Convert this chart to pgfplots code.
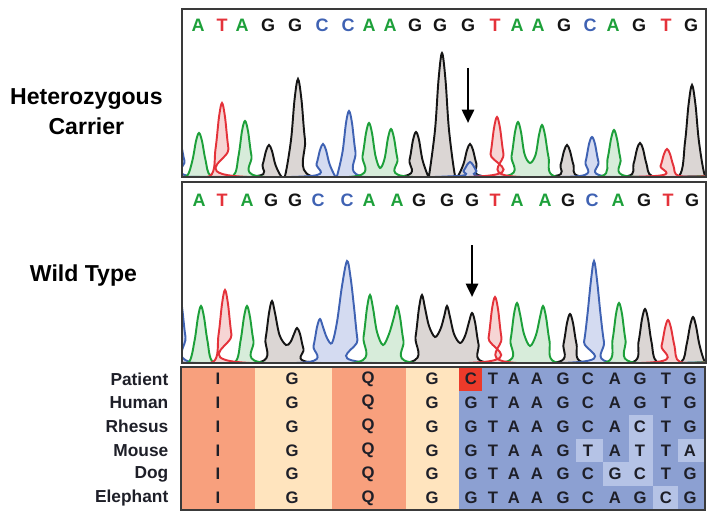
\documentclass[border=0pt]{standalone}
\usepackage{fontspec}
\setmainfont{Liberation Sans}
\usepackage{pgfplots}
\pgfplotsset{compat=1.18}
\usetikzlibrary{arrows.meta}

\definecolor{baseA}{HTML}{1DA03A}
\definecolor{baseT}{HTML}{E4323A}
\definecolor{baseC}{HTML}{3F62B3}
\definecolor{baseG}{HTML}{151515}
\definecolor{fillA}{HTML}{D0E9D3}
\definecolor{fillT}{HTML}{F5CECD}
\definecolor{fillC}{HTML}{CDD5EE}
\definecolor{fillG}{HTML}{D5CFCC}
\definecolor{cellOrange}{HTML}{F8A07D}
\definecolor{cellCream}{HTML}{FFE4BE}
\definecolor{cellBlue}{HTML}{8CA0D2}
\definecolor{cellLight}{HTML}{B5C3E6}
\definecolor{cellRed}{HTML}{EC3A2A}
\definecolor{frame}{HTML}{3A3A3A}
\definecolor{ink}{HTML}{1E1F28}

\pgfplotsset{
  panel/.style={scale only axis, width=393pt, xmin=182, xmax=706, ymin=-1,
    xtick=\empty, ytick=\empty, axis on top, anchor=north west,
    axis line style={frame, line width=0.9pt}},
  trace/.style={smooth, tension=0.55, line width=1.45pt, mark=none, fill opacity=0.85},
  seq/.style={only marks, mark=none, nodes near coords, point meta=explicit symbolic,
    nodes near coords align=center,
    every node near coord/.append style={font=\fontsize{13.5}{14}\selectfont\bfseries, text=#1}},
  arrowline/.style={line width=2pt, -{Triangle[length=10pt,width=9pt]}},
}

\begin{document}
\begin{tikzpicture}
\path (0,0) rectangle (534pt,-390pt);

\node[align=center, font=\fontsize{17.3}{22.5}\selectfont\bfseries] at (64.8pt,-84pt) {Heterozygous\\Carrier};
\node[font=\fontsize{17.3}{22.5}\selectfont\bfseries] at (62.6pt,-207pt) {Wild Type};

% heterozygous carrier trace
\begin{axis}[panel, at={(136.5pt,-6.75pt)}, height=126pt, ymax=167]
\addplot[trace, draw=baseG, fill=fillG] coordinates {(176,0)(257,0)(262.5,11)(266,25)(269,31)(272,25)(275.5,11)(281,0)(285,0)(291,36)(294.5,76)(298,97)(301.5,76)(305,36)(311,0)(404,0)(409.5,16)(413,36)(416,44)(419,36)(422.5,16)(428,0)(429,0)(435,46)(438.5,96)(442,123)(445.5,96)(449,46)(455,0)(458,0)(463.5,12)(467,26)(470,32)(473,26)(476.5,12)(482,0)(555,0)(560.5,11)(564,25)(567,31)(570,25)(573.5,11)(579,0)(628,0)(633.5,12)(637,27)(640,33)(643,27)(646.5,12)(652,0)(679,0)(685,34)(688.5,71)(692,91)(695.5,71)(699,34)(705,0)(712,0)};
\addplot[trace, draw=baseC, fill=fillC] coordinates {(160,0)(166,0)(171.5,15)(175,32)(178,40)(181,32)(184.5,15)(190,0)(311,0)(316.5,12)(320,26)(323,32)(326,26)(329.5,12)(335,0)(337,0)(342.5,24)(346,53)(349,65)(352,53)(355.5,24)(361,0)(458,0)(463.5,5)(467,11)(470,14)(473,11)(476.5,5)(482,0)(580,0)(585.5,14)(589,32)(592,39)(595,32)(598.5,14)(604,0)(712,0)};
\addplot[trace, draw=baseA, fill=fillA] coordinates {(176,0)(187,0)(192.5,16)(196,35)(199,43)(202,35)(205.5,16)(211,0)(233,0)(238.5,20)(242,45)(245,55)(248,45)(251.5,20)(257,0)(357,0)(362.5,20)(366,43)(369,53)(372,43)(375.5,20)(380,8)(384.5,17)(388,38)(391,47)(394,38)(397.5,17)(403,0)(506,0)(511.5,20)(515,44)(518,54)(521,44)(524.5,22)(530,13)(535.5,21)(539,41)(542,51)(545,41)(548.5,19)(554,0)(602,0)(607.5,17)(611,37)(614,46)(617,37)(620.5,17)(626,0)(712,0)};
\addplot[trace, draw=baseT, fill=fillT] coordinates {(176,0)(210,0)(215.5,27)(219,59)(222,73)(225,59)(228.5,27)(234,0)(485,0)(490.5,22)(494,48)(497,59)(500,48)(503.5,22)(509,0)(655,0)(660.5,10)(664,22)(667,27)(670,22)(673.5,10)(679,0)(712,0)};
\addplot[seq=baseA] table[meta=l] {
x y l
198 151 A
242 151 A
369 151 A
390 151 A
517 151 A
538 151 A
613 151 A
};
\addplot[seq=baseT] table[meta=l] {
x y l
222 151 T
495 151 T
666 151 T
};
\addplot[seq=baseC] table[meta=l] {
x y l
322 151 C
348 151 C
590 151 C
};
\addplot[seq=baseG] table[meta=l] {
x y l
268 151 G
295 151 G
415 151 G
440 151 G
468 151 G
564 151 G
639 151 G
691 151 G
};
\addplot[arrowline] coordinates {(468,108)(468,53)};
\end{axis}

% wild type trace
\begin{axis}[panel, at={(136.5pt,-136.5pt)}, height=135.75pt, ymax=180]
\addplot[trace, draw=baseG, fill=fillG] coordinates {(176,0)(260,0)(265.5,23)(269,49)(272,61)(275,49)(279.5,27)(286,17)(290.5,20)(294,28)(297,34)(300,28)(303.5,13)(309,0)(410,0)(415.5,25)(419,54)(422,67)(425,54)(429,36)(435,25)(440.5,33)(444,45)(447,56)(450,45)(454,28)(460,19)(465,26)(469,40)(472,49)(475,40)(478.5,18)(484,0)(558,0)(563.5,18)(567,39)(570,48)(573,39)(576.5,18)(582,0)(633,0)(638.5,20)(642,43)(645,53)(648,43)(651.5,20)(657,0)(681,0)(686.5,17)(690,36)(693,45)(696,36)(699.5,17)(705,0)(712,0)};
\addplot[trace, draw=baseC, fill=fillC] coordinates {(160,0)(167,0)(172.5,25)(176,55)(179,68)(182,55)(185.5,25)(191,0)(308,0)(313.5,16)(317,35)(320,43)(323,35)(327,24)(332,19)(337,40)(342,76)(347,101)(350.5,85)(354,55)(357.5,22)(362,0)(579,0)(584,20)(587.5,48)(591,82)(594,101)(597,82)(600.5,48)(604,20)(609,0)(712,0)};
\addplot[trace, draw=baseA, fill=fillA] coordinates {(176,0)(189,0)(194.5,21)(198,45)(201,56)(204,45)(207.5,21)(213,0)(235,0)(240.5,21)(244,45)(247,56)(250,45)(253.5,21)(259,0)(358,0)(363.5,25)(367,54)(370,67)(373,54)(377,30)(383,17)(389,28)(394,45)(397,56)(400,45)(403.5,21)(409,0)(505,0)(510.5,22)(514,48)(517,59)(520,48)(524,28)(530,16)(536,27)(540,45)(543,56)(546,45)(549.5,21)(555,0)(607,0)(612.5,22)(616,48)(619,59)(622,48)(625.5,22)(631,0)(712,0)};
\addplot[trace, draw=baseT, fill=fillT] coordinates {(176,0)(213,0)(218.5,27)(222,58)(225,72)(228,58)(231.5,27)(237,0)(483,0)(488.5,24)(492,53)(495,65)(498,53)(501.5,24)(507,0)(656,0)(661.5,16)(665,34)(668,42)(671,34)(674.5,16)(680,0)(712,0)};
\addplot[seq=baseA] table[meta=l] {
x y l
199 162 A
247 162 A
369 162 A
397 162 A
517 162 A
545 162 A
618 162 A
};
\addplot[seq=baseT] table[meta=l] {
x y l
222 162 T
495 162 T
668 162 T
};
\addplot[seq=baseC] table[meta=l] {
x y l
318 162 C
347 162 C
592 162 C
};
\addplot[seq=baseG] table[meta=l] {
x y l
271 162 G
295 162 G
419 162 G
447 162 G
472 162 G
568 162 G
644 162 G
692 162 G
};
\addplot[arrowline] coordinates {(472,117)(472,65)};
\end{axis}

% alignment table
\begin{axis}[scale only axis, width=393pt, height=107.25pt, at={(135.75pt,-275.25pt)}, anchor=north west,
  xmin=181, xmax=705, ymin=0, ymax=6, y dir=reverse, xtick=\empty, ytick=\empty,
  axis on top, clip=false, axis line style={frame, line width=0.9pt}]
\addplot[fill=cellOrange, draw=none] coordinates {(181,0)(255,0)(255,6)(181,6)};
\addplot[fill=cellCream, draw=none] coordinates {(255,0)(332,0)(332,6)(255,6)};
\addplot[fill=cellOrange, draw=none] coordinates {(332,0)(406,0)(406,6)(332,6)};
\addplot[fill=cellCream, draw=none] coordinates {(406,0)(459,0)(459,6)(406,6)};
\addplot[fill=cellBlue, draw=none] coordinates {(459,0)(705,0)(705,6)(459,6)};
\addplot[fill=cellRed, draw=none] coordinates {(459,0)(482,0)(482,1)(459,1)};
\addplot[fill=cellLight, draw=none] coordinates {(629,2)(653,2)(653,5)(629,5)};
\addplot[fill=cellLight, draw=none] coordinates {(576,3)(603,3)(603,4)(576,4)};
\addplot[fill=cellLight, draw=none] coordinates {(678,3)(705,3)(705,4)(678,4)};
\addplot[fill=cellLight, draw=none] coordinates {(603,4)(629,4)(629,5)(603,5)};
\addplot[fill=cellLight, draw=none] coordinates {(653,5)(678,5)(678,6)(653,6)};
\addplot[only marks, mark=none, nodes near coords, point meta=explicit symbolic,
  nodes near coords align=east,
  every node near coord/.append style={font=\fontsize{13}{14}\selectfont\bfseries, text=ink}]
  table[meta=l] {
x y l
173 0.5 Patient
173 1.5 Human
173 2.5 Rhesus
173 3.5 Mouse
173 4.5 Dog
173 5.5 Elephant
};
\addplot[only marks, mark=none, nodes near coords, point meta=explicit symbolic,
  nodes near coords align=center,
  every node near coord/.append style={font=\fontsize{12.5}{13}\selectfont\bfseries, text=ink}]
  table[meta=l] {
x y l
218 0.5 I
292 0.5 G
368 0.5 Q
432 0.5 G
471 0.5 C
493 0.5 T
514 0.5 A
537 0.5 A
563 0.5 G
588 0.5 C
615 0.5 A
640 0.5 G
666 0.5 T
690 0.5 G
218 1.5 I
292 1.5 G
368 1.5 Q
432 1.5 G
471 1.5 G
493 1.5 T
514 1.5 A
537 1.5 A
563 1.5 G
588 1.5 C
615 1.5 A
640 1.5 G
666 1.5 T
690 1.5 G
218 2.5 I
292 2.5 G
368 2.5 Q
432 2.5 G
471 2.5 G
493 2.5 T
514 2.5 A
537 2.5 A
563 2.5 G
588 2.5 C
615 2.5 A
640 2.5 C
666 2.5 T
690 2.5 G
218 3.5 I
292 3.5 G
368 3.5 Q
432 3.5 G
471 3.5 G
493 3.5 T
514 3.5 A
537 3.5 A
563 3.5 G
588 3.5 T
615 3.5 A
640 3.5 T
666 3.5 T
690 3.5 A
218 4.5 I
292 4.5 G
368 4.5 Q
432 4.5 G
471 4.5 G
493 4.5 T
514 4.5 A
537 4.5 A
563 4.5 G
588 4.5 C
615 4.5 G
640 4.5 C
666 4.5 T
690 4.5 G
218 5.5 I
292 5.5 G
368 5.5 Q
432 5.5 G
471 5.5 G
493 5.5 T
514 5.5 A
537 5.5 A
563 5.5 G
588 5.5 C
615 5.5 A
640 5.5 G
666 5.5 C
690 5.5 G
};
\end{axis}
\end{tikzpicture}
\end{document}
